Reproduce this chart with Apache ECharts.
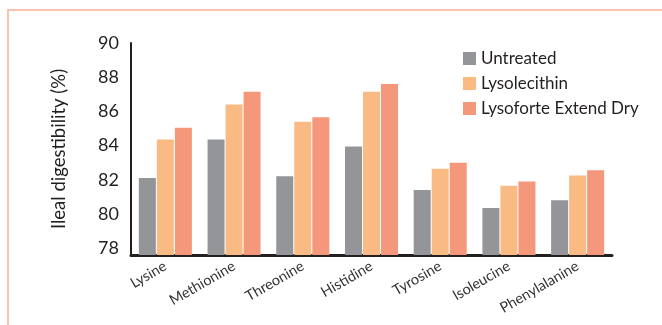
<!DOCTYPE html>
<html>
<head>
<meta charset="utf-8">
<script src="https://cdn.jsdelivr.net/npm/echarts@6/dist/echarts.min.js"></script>
<style>
  html, body { margin: 0; padding: 0; background: #fff; }
  #frame { position: absolute; left: 7px; top: 9px; right: 0; bottom: 0; border-top: 2px solid #f9c4ae; border-left: 2px solid #f9c4ae; }
  #chart { position: absolute; left: 0; top: 0; width: 662px; height: 325px; }
</style>
</head>
<body>
<div id="frame"></div>
<div id="chart"></div>
<script>
  // amino acids on the x axis
  var categories = ['Lysine', 'Methionine', 'Threonine', 'Histidine', 'Tyrosine', 'Isoleucine', 'Phenylalanine'];
  // ileal digestibility (%)
  var untreated = [82.1, 84.35, 82.2, 83.95, 81.4, 80.35, 80.8];
  var lysolecithin = [84.35, 86.4, 85.4, 87.15, 82.65, 81.65, 82.25];
  var lysoforteExtendDry = [85.05, 87.15, 85.65, 87.6, 83.0, 81.9, 82.55];
  var yTicks = [78, 80, 82, 84, 86, 88, 90];

  var font = 'Lato, "Open Sans", sans-serif';
  var chart = echarts.init(document.getElementById('chart'));

  var option = {
    animation: false,
    grid: { left: 131, right: 50, top: 43, bottom: 70 },
    legend: {
      orient: 'vertical',
      left: 458,
      top: 45,
      itemWidth: 13,
      itemHeight: 13,
      itemGap: 8,
      icon: 'rect',
      textStyle: { fontFamily: font, fontSize: 17, color: '#231f20', padding: [0, 0, 0, 0] },
      data: ['Untreated', 'Lysolecithin', 'Lysoforte Extend Dry']
    },
    xAxis: {
      type: 'category',
      data: categories,
      axisLine: { lineStyle: { color: '#231f20', width: 3 } },
      axisTick: { show: false },
      axisLabel: { rotate: 30, margin: 10, fontFamily: font, fontSize: 14.5, color: '#333' }
    },
    yAxis: {
      type: 'value',
      min: 77.6,
      max: 90,
      name: 'Ileal digestibility (%)',
      nameLocation: 'middle',
      nameGap: 62,
      nameTextStyle: { fontFamily: font, fontSize: 18.5, color: '#231f20' },
      axisLine: { show: true, lineStyle: { color: '#231f20', width: 2 } },
      axisTick: { show: false },
      splitLine: { show: false },
      axisLabel: {
        customValues: yTicks,
        margin: 12,
        fontFamily: font,
        fontSize: 18,
        color: '#231f20'
      }
    },
    series: [
      {
        name: 'Untreated', type: 'bar', data: untreated,
        barWidth: 17, barGap: '6%', barCategoryGap: '22%',
        itemStyle: { color: '#939598' }
      },
      {
        name: 'Lysolecithin', type: 'bar', data: lysolecithin,
        barWidth: 17, barGap: '6%',
        itemStyle: { color: '#f9bb83' }
      },
      {
        name: 'Lysoforte Extend Dry', type: 'bar', data: lysoforteExtendDry,
        barWidth: 17, barGap: '6%',
        itemStyle: { color: '#f5977a' }
      }
    ]
  };
  chart.setOption(option);
</script>
</body>
</html>
